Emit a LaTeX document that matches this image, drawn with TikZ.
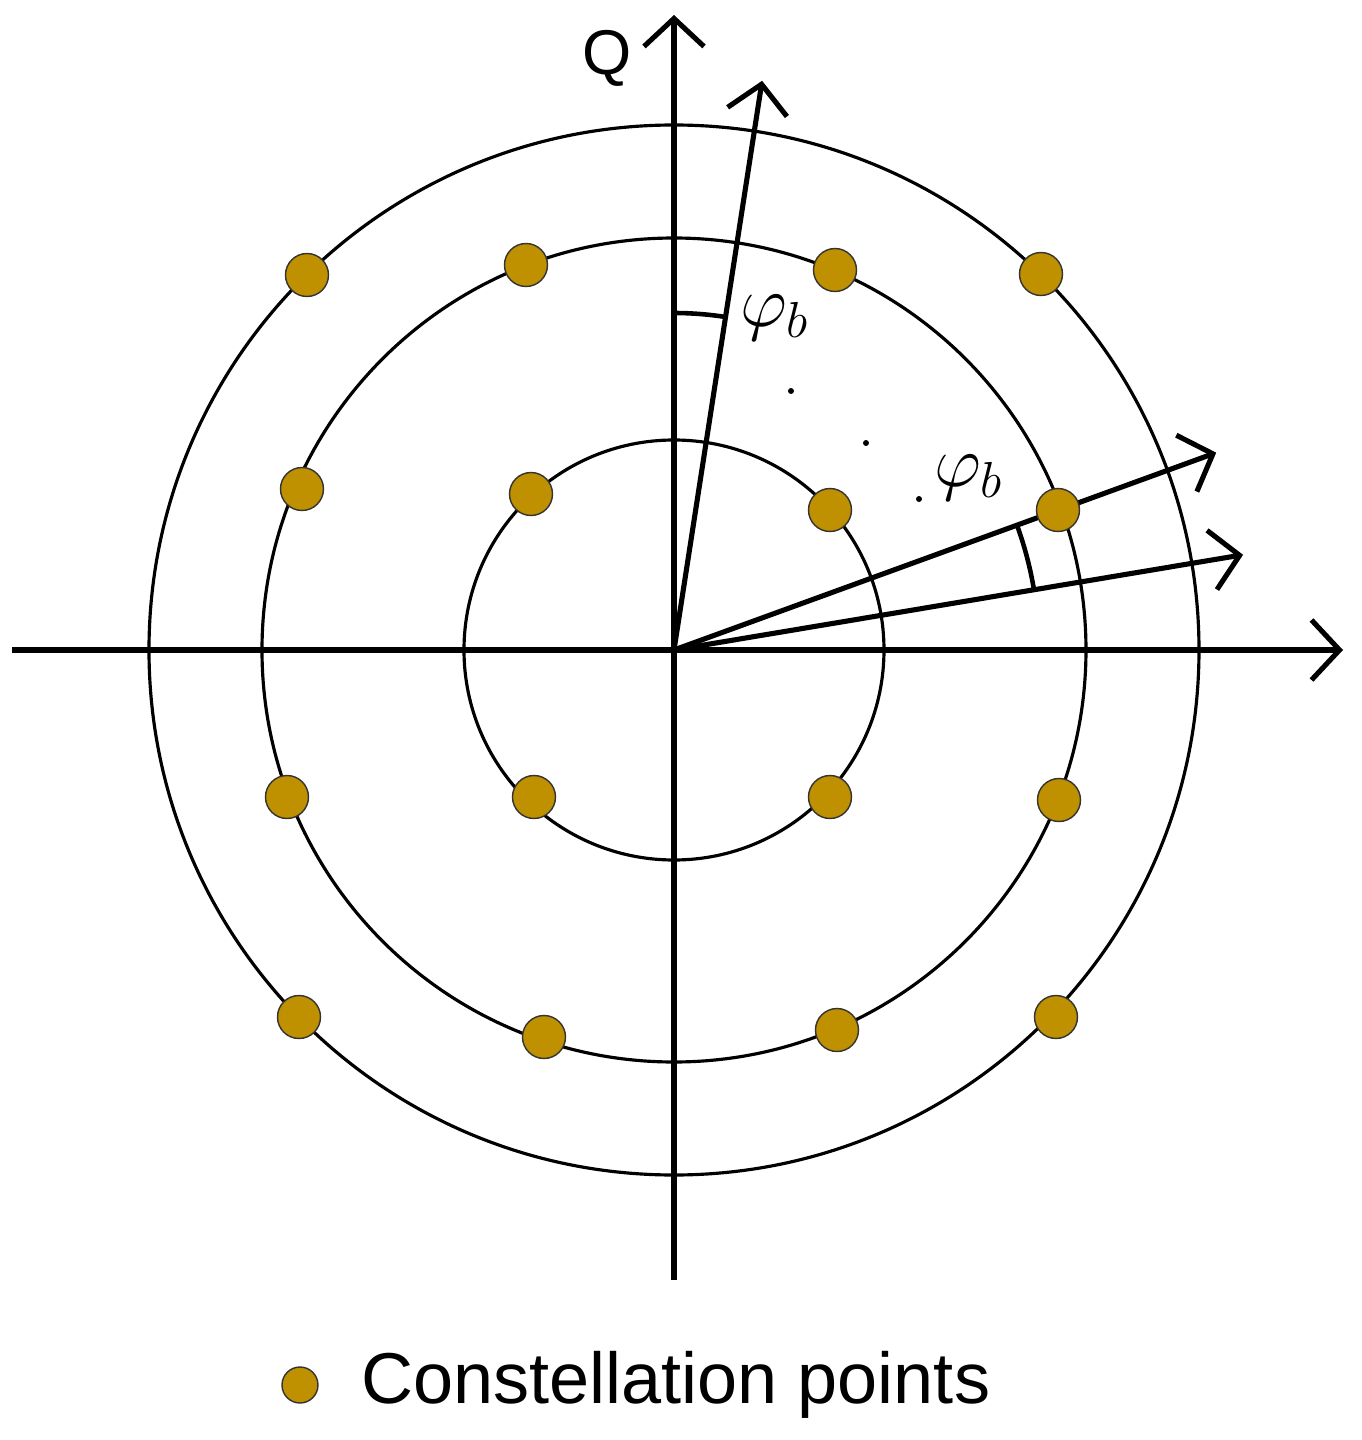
\documentclass[tikz,border=0pt]{standalone}
\usepackage{fontspec}
\setmainfont{Liberation Sans}
\usepackage{tikz}
\usetikzlibrary{arrows.meta,positioning,calc}
\usepackage{xcolor}
\definecolor{cgold}{RGB}{191,144,0}

\tikzset{
    axisline/.style={line width=1.45pt, -{Straight Barb[length=0.28cm, width=0.6cm, line width=1.45pt]}},
    ring/.style={line width=0.9pt},
    cpoint/.style={circle, fill=cgold, draw=black!80, line width=0.4pt, minimum size=0.43cm, inner sep=0pt},
    anglearc/.style={line width=1.3pt},
    philabel/.style={font=\fontsize{22}{26}\selectfont}
}

\begin{document}
\begin{tikzpicture}
    \useasboundingbox (-6.74,-7.90) rectangle (6.87,6.50);

    % rings
    \foreach \r in {2.1,4.12,5.25} {
        \draw[ring] (0,0) circle (\r);
    }

    % axes
    \coordinate (O) at (0,0);
    \coordinate (xl) at (-6.62,0);
    \coordinate (xr) at (6.69,0);
    \coordinate (yb) at (0,-6.30);
    \coordinate (yt) at (0,6.35);
    \draw[axisline] (xl) -- (xr);
    \draw[axisline] (yb) -- (yt);
    \node[font=\fontsize{18}{22}\selectfont] (qlab) at (-0.67,5.92) {Q};

    % rotated vectors
    \coordinate (v1) at (81.2:5.76);
    \coordinate (v2) at (20:5.77);
    \coordinate (v3) at (9.5:5.77);
    \foreach \v in {v1,v2,v3} {
        \draw[axisline] (O) -- (\v);
    }

    % angles
    \draw[anglearc] (90:3.37) arc (90:81.2:3.37);
    \draw[anglearc] (20:3.65) arc (20:9.5:3.65);
    \node[philabel] (phi1) at (1.01,3.32) {$\varphi_b$};
    \node[philabel] (phi2) at (2.95,1.72) {$\varphi_b$};
    \foreach \p in {(1.17,2.59),(1.92,2.07),(2.45,1.51)} {
        \fill \p circle (0.03);
    }

    % constellation points
    \foreach \x/\y [count=\i] in {
        -3.67/3.75, 3.67/3.76, -3.75/-3.67, 3.82/-3.67,
        -1.48/3.85, 1.61/3.80, -3.72/1.61, 3.84/1.40,
        -3.87/-1.47, 3.85/-1.50, -1.30/-3.87, 1.63/-3.80,
        -1.43/1.56, 1.56/1.40, -1.40/-1.47, 1.56/-1.47} {
        \node[cpoint] (c\i) at (\x,\y) {};
    }

    % legend
    \node[cpoint, minimum size=0.36cm] (leg) at (-3.74,-7.35) {};
    \node[right=0.42cm of leg, inner sep=0pt, font=\fontsize{20.5}{24}\selectfont] (legtext) {Constellation points};
\end{tikzpicture}
\end{document}
